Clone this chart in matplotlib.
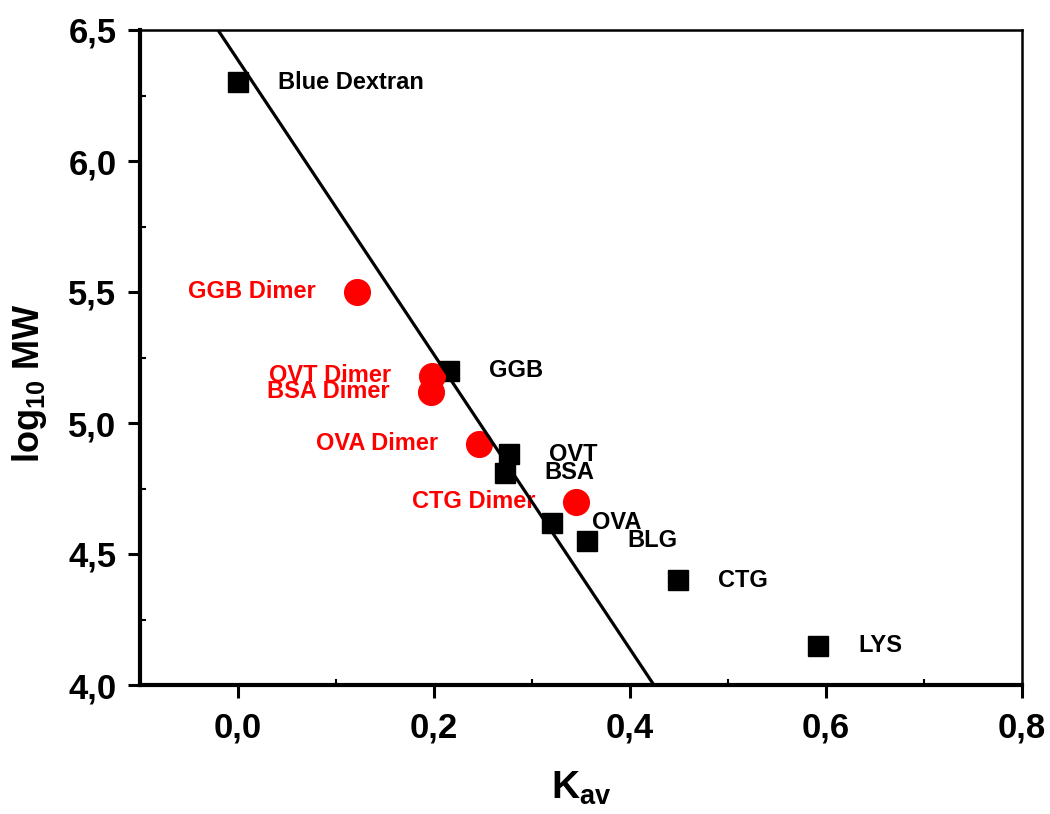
import matplotlib
import numpy as np

matplotlib.use("Agg")
import matplotlib.pyplot as plt

# Calibration standards (black squares)
std_names = ["Blue Dextran", "GGB", "OVT", "BSA", "OVA", "BLG", "CTG", "LYS"]
std_kav = [0.000, 0.215, 0.277, 0.272, 0.320, 0.356, 0.449, 0.592]
std_logmw = [6.30, 5.20, 4.88, 4.81, 4.62, 4.55, 4.40, 4.15]

# Dimer species (red circles)
dimer_names = ["GGB Dimer", "OVT Dimer", "BSA Dimer", "OVA Dimer", "CTG Dimer"]
dimer_kav = [0.121, 0.198, 0.197, 0.246, 0.345]
dimer_logmw = [5.50, 5.18, 5.12, 4.92, 4.70]

# Linear fit of the calibration
fit_slope = -5.62
fit_intercept = 6.385

x_ticks = [0.0, 0.2, 0.4, 0.6, 0.8]
x_ticklabels = ["0,0", "0,2", "0,4", "0,6", "0,8"]
y_ticks = [4.0, 4.5, 5.0, 5.5, 6.0, 6.5]
y_ticklabels = ["4,0", "4,5", "5,0", "5,5", "6,0", "6,5"]

plt.rcParams["font.family"] = ["Liberation Sans", "DejaVu Sans"]
plt.rcParams["mathtext.default"] = "regular"

fig = plt.figure(figsize=(10.5, 8.14), dpi=100)
ax = fig.add_axes([140 / 1050, 1 - 685 / 814, 882 / 1050, 655 / 814])

xfit = np.array([-0.1, 0.8])
ax.plot(xfit, fit_intercept + fit_slope * xfit, color="black", linewidth=2.3, zorder=4)

ax.plot(std_kav, std_logmw, linestyle="none", marker="s", markersize=15,
        color="black", zorder=3)
ax.plot(dimer_kav, dimer_logmw, linestyle="none", marker="o", markersize=18.5,
        color="#ff0000", zorder=3)

for name, x, y in zip(std_names, std_kav, std_logmw):
    ax.annotate(name, (x, y), xytext=(40, 0), textcoords="offset pixels",
                ha="left", va="center", fontsize=17, fontweight="bold",
                color="black", zorder=2)
for name, x, y in zip(dimer_names, dimer_kav, dimer_logmw):
    ax.annotate(name, (x, y), xytext=(-41, 0), textcoords="offset pixels",
                ha="right", va="center", fontsize=17, fontweight="bold",
                color="#ff0000", zorder=2)

ax.set_xlim(-0.1, 0.8)
ax.set_ylim(4.0, 6.5)

ax.set_xticks(x_ticks)
ax.set_xticklabels(x_ticklabels, fontsize=25, fontweight="bold")
ax.set_yticks(y_ticks)
ax.set_yticklabels(y_ticklabels, fontsize=25, fontweight="bold")
ax.set_xticks(np.arange(-0.1, 0.8, 0.2), minor=True)
ax.set_yticks(np.arange(4.25, 6.5, 0.5), minor=True)

ax.tick_params(which="major", direction="out", length=9, width=2.2, pad=8)
ax.tick_params(which="minor", direction="in", length=4, width=1.5)
ax.tick_params(axis="x", which="major", pad=10)

for side in ("left", "bottom"):
    ax.spines[side].set_linewidth(3)
for side in ("top", "right"):
    ax.spines[side].set_linewidth(1.8)

ax.set_xlabel("K$_{av}$", fontsize=28, fontweight="bold", labelpad=18)
ax.set_ylabel("log$_{10}$ MW", fontsize=26, fontweight="bold")
ax.yaxis.set_label_coords(-0.103, 0.461)

fig.savefig("out.png", dpi=100)
